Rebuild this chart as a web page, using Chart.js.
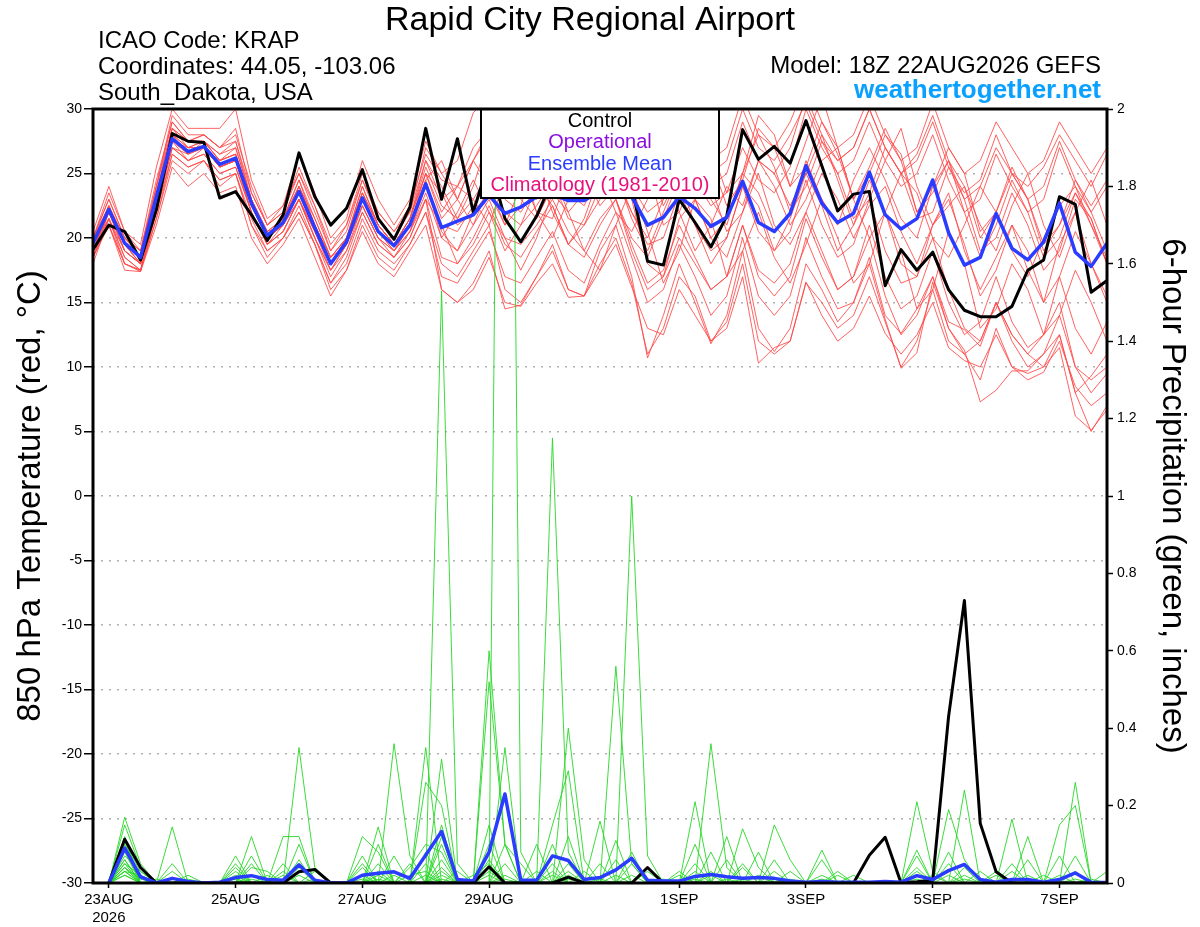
<!DOCTYPE html>
<html>
<head>
<meta charset="utf-8">
<title>Rapid City Regional Airport - GEFS</title>
<script src="https://cdn.jsdelivr.net/npm/chart.js@4.4.1/dist/chart.umd.min.js"></script>
<style>
  html, body { margin: 0; padding: 0; background: #fff; }
  #wrap { position: relative; width: 1200px; height: 927px; }
</style>
</head>
<body>
<div id="wrap"><canvas id="chart" width="1200" height="927"></canvas></div>
<script>
// forecast hour of every point, 18Z 22AUG2026 run
const forecastHours = [0,6,12,18,24,30,36,42,48,54, 60,66,72,78,84,90,96,102,108,114,
	120,126,132,138,144,150,156,162,168,174, 180,186,192,198,204,210,216,222,228,234,
	240,246,252,258,264,270,276,282,288,294, 300,306,312,318,324,330,336,342,348,354,
	360,366,372,378,384];
const tickHours = [6, 54, 102, 150, 222, 270, 318, 366];
const tickLabels = [['23AUG', '2026'], '25AUG', '27AUG', '29AUG', '1SEP', '3SEP', '5SEP', '7SEP'];

// 850 hPa temperature (C)
const meanTemp = [19.6,22.2,19.6,18.5,23.2,27.7,26.7,27.1,25.7,26.2, 22.7,20.2,21.2,23.6,20.8,18.0,19.7,23.1,20.5,19.4,
	21.0,24.2,20.8,21.3,21.8,23.3,21.9,22.4,23.2,23.4, 22.9,22.9,23.6,24.0,23.2,21.0,21.6,23.2,22.3,20.9,
	21.6,24.4,21.2,20.5,21.9,25.6,22.7,21.2,21.9,25.1, 21.8,20.7,21.5,24.5,20.4,17.9,18.5,21.9,19.2,18.3,
	19.7,22.7,18.9,17.8,19.6];
const controlTemp = [19.1,21.0,20.5,18.3,22.2,28.1,27.5,27.4,23.1,23.6, 21.8,19.8,21.8,26.6,23.2,21.0,22.3,25.3,21.5,19.9,
	22.4,28.5,23.0,27.7,22.0,26.0,21.5,19.7,21.7,24.5, 25.5,24.8,26.0,25.0,24.0,18.2,17.9,23.0,21.2,19.3,
	21.7,28.4,26.1,27.1,25.8,29.1,25.6,22.1,23.4,23.6, 16.3,19.1,17.5,18.9,16.0,14.4,13.9,13.9,14.7,17.5,
	18.3,23.2,22.6,15.8,16.7];

const tempMember01 = [20,23.5,20.5,19,24,29.5,28,28,27,28.5,23.5,21,22,25,22,19,21,24.5,22,20.5,22,
	26,23,24,27,28.5,25,25.5,27,28,26,27,29,30.5,27,24,25,28,26,24,25,29,26,25,27,
	31,28,26,27,30,27,25,26.5,29.5,26,23,24,27,25,24,25.5,28,26,24,26.5];
const tempMember02 = [19,21,18,17.5,21.5,26,25,26,24,25,21.5,19,20,22,19.5,16.5,18,21.5,19,18,19.5,
	22,18,17,19,21,16,15,17,19,16,15.5,18,20,16.5,11,13,17,15.5,12,13.5,18,12,11,12,
	16.5,15,13,14,17,13.5,10,12,16,12,11,12,15,12,10,11,14,10,9,10];
const tempMember03 = [19.5,22.5,19.5,18,23,28,27,27.5,26,26.5,22.5,20,21.5,24,21,18,20,23.5,21,19.5,21,
	25,22,24,23,21,24.5,26,22,20,23,26,25,22,20.5,23,25.5,22,19,21,24,22.5,26,24,21,
	23,26,27,23,20,22,25,23.5,20,18.5,21,24,22,19,17,20,22.5,24,21,18];
const tempMember04 = [18.5,21.5,18.5,17.5,22,27,26,26.5,25,25.5,22,19.5,20.5,23,20,17,19,22.5,20,18.5,20.5,
	23.5,20,19,21,23,20,19.5,21,23,20.5,19,21.5,23,19,16,17,20,18,16,17,21,17.5,16.5,18,
	22,19,16,17,20,15.5,12.5,14,17,13,11,9,13,10,9.5,10,12.5,8,5,7];
const tempMember05 = [20,22,19,18,22.5,27.5,27,27,25.5,26,22.5,20.5,21,23.5,21,18.5,19.5,23,20.5,19,21,
	24.5,26,23,21,24,27,25,22,21.5,25,28,26,24.5,22,20,23,26.5,27,23,21,25,28,25.5,22,
	24,27.5,25,21.5,23,26,28.5,24,21,22.5,24,21,19,22.5,25,21,18.5,22,24.5,21];
const tempMember06 = [19,22,19.5,18.5,23.5,28.5,27.5,27.5,26.5,27,23,20,21,24,21.5,18.5,20,24,21,19.5,21.5,
	25.5,22.5,21.5,23,25,23,22,24,26,23.5,22.5,25,27,24,22,23,26,24.5,22.5,23.5,27,24.5,23.5,25.5,
	30,27,25,26,29,26,24,25,28,24.5,22,23,26.5,24,22,23,27,24,22,24];
const tempMember07 = [18.5,21,18,17.5,22.5,27,26.5,27,25.5,26,22,19.5,21,23,20.5,17.5,19.5,22.5,20,19,20.5,
	23,16,15,16.5,19,14.5,14.8,17,19.5,16,15.5,19,21,17,10.7,14,18,15,11.8,14,19,13,11.2,13,
	18,16,13.5,15,18.5,14,12.6,14.5,17,13.5,12.9,11.6,15,12.5,11,12.5,17,13,11,13.5];
const tempMember08 = [20,23,20,19,24.5,29,27.5,28,27,28,24,21,22.5,25,22.5,19,20.5,24.5,21.5,20,22,
	27,25,23,26,28.5,27,24.5,23,26,28,26.5,24,26,29,27,23,24,27.5,26,22.5,24.5,28.5,27,24,
	25.5,29,26.5,23,25,28,26.5,22,23.5,26,24,20,22,25,23,19.5,21,23.5,21.5,18];
const tempMember09 = [19.5,21.5,18,17.4,21.5,26.5,25.5,26,24.5,25,21,18.5,20,22,19.5,16,17.5,21,18.5,17.5,19.5,
	22,17,16.5,18.5,20.5,17,16.5,18.5,20.5,17.5,16.5,19.5,22,18.5,15,16,19.5,17,14,15.5,20,15.5,14,15.5,
	20,17,14.5,15,18,13.7,9.9,11.1,16.6,13,11.3,7.3,8.2,9.7,9.7,11,12.5,8,9.3,11];
const tempMember10 = [19,22.5,19.5,18,23,28,26.5,27,25.5,26,22.5,20,21,23.5,20.5,18,19.5,23,20.5,19.5,21,
	24,20.5,19,22,23.5,21,24,25.5,22,19.5,21,24,26,23,18,17,21.5,23,20,18.5,22,25,21,19.5,
	22,25,23,20,22.5,24,20.5,18,21,23.5,19,16,18.5,21,17.5,15,19.5,22,18,15.5];
const tempMember11 = [20.5,24,20.5,19.5,25.5,30,28.5,28.5,28.5,30,24.5,21.5,22.5,26.5,23.5,20,21.5,26,23,21,23,
	27.5,25,26,29.7,31,28,27,29,31,28,27,30,32,29,26,27,30.5,28,26,27,31,28,27,29,
	32,29,27,28,31,28,26,27,30.5,27,25,26,29,27,25,26,29,27,25,27];
const tempMember12 = [18.5,22,19,18,22,27.5,26,26.5,25,25.5,22,19.5,20.5,23,20,17.5,19,22,19.5,18.5,20,
	23,21,18,19.5,22,20,17.5,20,23.5,22,19,17.5,21,24,20.5,16.5,19,23,21.5,17,19,22,18.5,16.5,
	19.5,23,20,16.5,18,22,19,14.5,16,20.5,18,13,14.5,18,16,12.5,14,17.5,15,12];
const tempMember13 = [19.5,22,19.5,18.5,23.5,28.5,27.5,27.5,26,26.5,23,20.5,21.5,24,21,18.5,20,23.5,21,19.5,21.5,
	25,23.5,21,22,25.5,26.5,23,21.5,24,27,25,22.5,24,27.5,25.5,21,22,25,24,20.5,22,26,25,22.5,
	25,28,24.5,21,23.5,27,25,21.5,22,25.5,23,19,20,23.5,21,17.5,19,23,21.5,18];
const tempMember14 = [19,21.5,19,18,22.5,27,26,27,25.5,26,22,19.5,20.5,23,20,17.5,19.5,22.5,20,19,20.5,
	24,21,20.5,22.5,24.5,22,21,22.5,24.5,21.5,21,23,25,22,19.5,20,23.5,21,19,20,24,20.5,19,20.5,
	24.5,21,18.5,19.5,23,19,16.5,17,20,16,13,12,15,12.5,11,10,11.5,6.2,5.1,6.7];
const tempMember15 = [20,22.5,20,19,24,28.5,27,27.5,26.5,27.5,23,20.5,21.5,24.5,21.5,18.5,20,24,21,19.5,21.5,
	26,24,21.5,24,28,29.5,26,23,25,29,27.5,24,25,28.5,26,22.5,25,29,27,23.5,25,29.5,28,24,
	27.5,31,27,23,25.5,28.5,26,22,24,27,25,20.5,22,25.5,23,19,21,24.5,22,19];
const tempMember16 = [18,21.5,18.5,17.5,22,26.5,25.5,26,24.5,25,21,19,20,22.5,19.5,16.5,18.5,22,19.5,18.5,20,
	23,18.5,18,20,22.5,19.5,18.5,20.5,22.5,19.5,18.5,21,23,19.5,16.5,17.5,21,18.5,16,17,21,17,15.5,17,
	21.5,18.5,16,17,21,17,14.5,15.5,19,15,12.5,13.5,17,13.5,11.5,12.5,15,10,8,9.5];
const tempMember17 = [19.5,22.5,19.5,18,23,28,27,27,26,27,23,20,21.5,24.5,21,18,20,23.5,21,19.5,21.5,
	25,21.5,23,26,24,21,22.5,26.5,25,22,23.5,27,25,21.5,19,22,25,23,20,21.5,25,23.5,20.5,22,
	26,23,21,24.5,27,24.5,21.5,20,24,26,22,18.5,21,24.5,22,18.5,20,23.5,21,18.5];
const tempMember18 = [19,22,19,18,23,27.5,26.5,27.5,26,26.5,22.5,20,21,23,20.5,18,19.5,23,20.5,19,21,
	24.5,20,22,24.5,22,19,21,24,22.5,19.5,21.5,25,23,20,18.5,21.5,24.5,21,18,20,24,22.5,19,21.5,
	25,22.5,19,21,24.5,22,18,17,21,23,19.5,15.5,17.5,21,19,15,17,20.5,18,15];
const tempMember19 = [20,23,20,18.5,24,29,27.5,28,27,27.5,23.5,21,22,25.5,22.5,19.5,21,25,22,20.5,22.5,
	26.5,24.5,24,26,28,26,25.5,27,29,26.5,26,28,30,27.5,25,26,29,27,25,26,30,27,26,28,
	30.5,27.5,26,27,30,27,25,26,29,25.5,23.5,24.5,28,25,23,24,27.5,24.5,22.5,24.5];
const tempMember20 = [18.5,21,17.5,17.4,21,25.5,24,25,23.5,24,20,18,19.5,21.5,18.5,15.5,17.5,20.5,18,17,19,
	21,16,15,16,18.5,15,14.7,16.5,18,15.4,15.5,17.5,19.5,16.2,13,12.5,16,14,12,13,17,10.3,11.5,12,
	16.6,14,12,13,15.5,12.6,11,12.5,15,11.5,10.5,10,12.5,10,9,9.6,12,8.5,7,8];

// 6-hour precipitation (inches), first step has no accumulation
const meanPrecip = [null,0,.09,.016,0,.012,.004,0,.002,.014, .019,.009,.007,.047,.007,0,0,.02,.025,.029,
	.012,.072,.133,.009,.005,.08,.23,.007,.007,.07, .058,.009,.014,.034,.064,.007,.005,.005,.017,.022,
	.016,.012,.014,.012,.005,.002,.004,.002,.002,.002, .004,.002,.019,.009,.032,.048,.009,.002,.009,.009,
	.002,.009,.026,.002,.001];
const controlPrecip = [null,0,.113,.04,0,0,0,0,0,0, 0,0,0,.029,.035,0,0,0,0,0,
	0,0,0,0,0,.042,0,0,0,0, .015,0,0,0,0,.04,0,0,0,0,
	0,0,0,0,0,0,0,0,0,.072, .118,0,.003,.007,.43,.73,.154,.029,0,0,
	0,0,0,0,0];

const precipMember01 = [null,0,.17,.05,0,0,0,0,0,0, 0,0,0,.35,.04,0,0,0,0,0, 0,0,1.53,.05,0,0,0,0,0,0,
	.12,0,0,0,0,0,0,0,.05,0, 0,0,0,0,0,0,0,0,0,0, 0,0,.04,0,0,0,0,0,0,0, 0,0,.07,0,0];
const precipMember02 = [null,0,.15,.04,0,.145,0,0,0,0, .12,0,0,0,0,0,0,0,0,0, 0,.35,0,0,0,.6,.1,0,0,0,
	0,0,0,.11,0,0,0,0,0,.36, .04,0,0,0,0,0,0,0,0,0, 0,0,0,0,0,.24,0,0,0,0, 0,0,0,0,0];
const precipMember03 = [null,0,.12,0,0,0,0,0,0,.07, 0,0,.12,.12,0,0,0,0,0,.36, .07,0,0,0,0,0,4.4,.08,0,0,
	0,0,0,0,.08,0,0,0,0,0, 0,0,0,0,0,0,.085,0,0,0, 0,0,0,0,0,0,0,0,.165,0, 0,0,0,0,0];
const precipMember04 = [null,0,.1,.03,0,0,0,0,0,0, .07,0,0,0,0,0,0,.12,.08,0, 0,0,.32,0,0,0,0,0,0,1.15,
	.08,0,0,0,0,0,0,0,.21,0, 0,0,0,.15,.06,0,0,0,0,0, 0,0,0,0,0,0,0,0,0,0, 0,0,.26,0,0];
const precipMember05 = [null,0,.08,0,0,0,0,0,0,.05, 0,0,0,.1,0,0,0,0,.145,0, 0,.26,.2,0,0,.52,.1,0,0,0,
	.4,.06,0,0,0,0,0,0,0,0, 0,.14,.04,0,0,0,0,0,0,0, 0,0,0,0,.19,.06,0,0,0,0, 0,0,0,0,0];
const precipMember06 = [null,0,.06,0,0,.05,0,0,0,0, 0,0,.05,0,0,0,0,.07,0,0, 0,0,.15,0,0,.15,0,0,0,0,
	0,0,0,.56,.05,0,0,0,0,0, .12,0,0,0,0,0,0,0,0,0, 0,0,.21,.03,0,0,0,0,0,0, 0,.15,.2,0,0];
const precipMember07 = [null,0,.05,.02,0,0,0,0,0,0, .05,0,0,.06,0,0,0,0,.1,0, 0,0,.12,0,0,0,0,0,0,.15,
	.29,0,.16,0,0,0,0,0,0,.08, 0,0,0,0,0,0,.06,0,0,0, 0,0,0,0,0,0,0,0,0,.12, 0,0,0,0,0];
const precipMember08 = [null,0,.05,0,0,0,.02,0,0,.04, 0,0,0,0,.03,0,0,0,0,0, .04,.1,.08,0,0,.1,0,0,0,0,
	0,0,0,0,1.0,.07,0,0,0,0, 0,0,.08,0,0,0,0,0,0,0, 0,0,.085,0,0,0,0,0,.05,0, 0,0,0,0,0];
const precipMember09 = [null,0,.04,0,0,.03,0,0,0,0, 0,0,0,0,0,0,0,.05,0,.07, 0,0,.1,0,0,0,.35,0,0,.1,
	0,0,0,0,0,0,0,0,.1,0, 0,.05,0,0,0,0,0,.03,0,0, 0,0,0,0,.08,0,0,.03,0,0, 0,0,0,0,0];
const precipMember10 = [null,0,.04,0,0,0,0,0,0,0, .04,.03,0,.04,0,0,0,0,.05,0, 0,.08,0,0,0,.06,0,0,.1,0,
	.05,0,0,.06,0,0,0,0,0,0, .06,0,0,.06,0,0,0,0,0,0, 0,0,.07,0,0,0,0,0,0,0, 0,.07,0,0,0];
const precipMember11 = [null,0,.03,.02,0,0,0,0,0,.03, 0,0,0,0,0,0,0,.04,0,0, .05,0,0,0,.02,.05,0,0,0,.05,
	0,.03,0,0,0,0,0,.03,0,.03, 0,0,0,0,0,0,0,0,.02,0, 0,0,0,0,0,.04,0,0,0,.06, 0,0,0,0,0];
const precipMember12 = [null,0,.03,0,0,0,0,0,0,0, 0,.02,0,0,0,0,0,0,0,0, 0,0,.06,0,0,0,.1,.05,0,0,
	0,0,.05,0,0,.03,0,0,0,0, 0,.04,0,0,.03,0,0,0,0,0, 0,0,0,0,.05,0,0,0,0,0, 0,0,0,0,.03];
const precipMember13 = [null,0,.02,0,0,0,.01,0,0,0, 0,0,.02,0,0,0,0,0,.03,0, 0,0,0,.03,0,0,0,0,.03,0,
	0,0,0,0,.05,0,0,0,0,0, 0,0,0,.03,0,0,0,.02,0,0, 0,0,0,0,0,0,0,.02,0,0, .02,0,0,0,0];
const precipMember14 = [null,0,.07,.03,0,0,0,0,0,0, .02,0,0,0,0,0,0,.02,0,0, 0,.05,0,0,0,.04,0,0,0,0,
	.02,0,0,0,0,0,0,.02,0,0, 0,0,.02,0,0,0,0,0,0,0, 0,0,0,.02,0,0,.03,0,0,0, 0,0,0,.01,0];
const precipMember15 = [null,0,.09,0,0,0,0,0,0,.02, 0,0,0,0,.01,0,0,0,0,.02, 0,0,.04,0,0,0,.05,0,0,.02,
	0,0,0,0,0,0,0,0,.03,0, 0,0,0,0,0,0,.02,0,0,0, 0,0,.03,0,0,0,0,0,.03,0, 0,0,0,0,0];
const precipMember16 = [null,0,.11,0,.01,0,0,0,0,0, 0,0,.03,0,0,0,0,0,.02,0, 0,0,.03,0,0,.03,0,0,0,0,
	.03,0,0,0,0,0,.01,0,0,0, 0,0,0,0,.01,0,0,0,0,0, 0,0,0,0,0,.02,0,0,0,0, 0,.02,0,0,0];
const precipMember17 = [null,0,.02,0,0,0,0,0,0,0, .01,0,0,0,0,0,0,0,0,0, .02,.03,0,0,0,0,.02,0,0,0,
	0,0,0,.02,0,0,0,0,0,.02, 0,.01,0,0,0,0,0,0,0,0, 0,0,0,0,.02,0,0,0,0,0, 0,0,.03,0,0];
const precipMember18 = [null,0,.06,0,0,0,0,0,0,0, 0,0,0,.02,0,0,0,.01,0,0, 0,0,.02,0,0,0,0,0,0,.03,
	0,0,0,0,.02,0,0,0,0,0, .01,0,0,0,0,0,0,0,0,0, 0,0,.01,0,0,0,0,0,0,.02, 0,0,0,0,0];
const precipMember19 = [null,0,.04,.01,0,0,0,0,0,.01, 0,0,0,0,0,0,0,0,0,0, 0,.02,0,0,0,.02,0,0,0,0,
	.01,0,0,0,0,0,0,0,0,0, 0,0,0,.01,0,0,0,0,0,0, 0,0,0,0,0,.01,0,0,0,0, 0,0,0,0,0];
const precipMember20 = [null,0,.03,0,0,0,0,0,0,0, 0,0,0,0,0,0,0,0,.01,0, 0,0,.01,0,0,0,.01,0,0,0,
	0,0,.01,0,0,0,0,0,.01,0, 0,0,0,0,0,0,.01,0,0,0, 0,0,0,0,0,0,0,0,0,0, 0,0,.01,0,0];

const tempMembers = [tempMember01, tempMember02, tempMember03, tempMember04, tempMember05,
	tempMember06, tempMember07, tempMember08, tempMember09, tempMember10,
	tempMember11, tempMember12, tempMember13, tempMember14, tempMember15,
	tempMember16, tempMember17, tempMember18, tempMember19, tempMember20];
const precipMembers = [precipMember01, precipMember02, precipMember03, precipMember04, precipMember05,
	precipMember06, precipMember07, precipMember08, precipMember09, precipMember10,
	precipMember11, precipMember12, precipMember13, precipMember14, precipMember15,
	precipMember16, precipMember17, precipMember18, precipMember19, precipMember20];

const legendItems = [
	{ text: 'Control', color: '#000000' },
	{ text: 'Operational', color: '#8a10e0' },
	{ text: 'Ensemble Mean', color: '#2a3cff' },
	{ text: 'Climatology (1981-2010)', color: '#e8107c' }
];

Chart.defaults.font.family = '"Liberation Sans", Arial, Helvetica, sans-serif';
Chart.defaults.color = '#000';

// datasets: index 0 is painted last, so thick lines go first
let datasets = [];
datasets.push({ label: 'Ensemble Mean', data: meanTemp, yAxisID: 'yT', borderColor: '#2a3cff', borderWidth: 3.5 });
datasets.push({ label: 'Control', data: controlTemp, yAxisID: 'yT', borderColor: '#000', borderWidth: 3 });
datasets.push({ label: 'Ensemble Mean precip', data: meanPrecip, yAxisID: 'yP', borderColor: '#2a3cff', borderWidth: 3.5 });
datasets.push({ label: 'Control precip', data: controlPrecip, yAxisID: 'yP', borderColor: '#000', borderWidth: 3 });
precipMembers.forEach(function (d, i) {
	datasets.push({ label: 'P member ' + (i + 1), data: d, yAxisID: 'yP', borderColor: 'rgba(40,215,40,0.9)', borderWidth: 1 });
});
tempMembers.forEach(function (d, i) {
	datasets.push({ label: 'T member ' + (i + 1), data: d, yAxisID: 'yT', borderColor: 'rgba(255,70,70,0.85)', borderWidth: 1 });
});

const decorations = {
	id: 'decorations',
	afterDatasetsDraw(chart) {
		const ctx = chart.ctx;
		const a = chart.chartArea;
		ctx.save();
		// legend box
		let cx = (a.left + a.right) / 2;
		let boxW = 238, boxH = 89;
		ctx.fillStyle = '#fff';
		ctx.fillRect(cx - boxW / 2, a.top, boxW, boxH);
		ctx.lineWidth = 2;
		ctx.strokeStyle = '#000';
		ctx.strokeRect(cx - boxW / 2, a.top, boxW, boxH);
		ctx.font = '20px "Liberation Sans", Arial, sans-serif';
		ctx.textAlign = 'center';
		ctx.textBaseline = 'alphabetic';
		legendItems.forEach(function (item, i) {
			ctx.fillStyle = item.color;
			ctx.fillText(item.text, cx, a.top + 18 + i * 21.3);
		});
		// plot frame
		ctx.lineWidth = 3;
		ctx.strokeStyle = '#000';
		ctx.strokeRect(a.left, a.top, a.right - a.left, a.bottom - a.top);
		ctx.restore();
	},
	afterDraw(chart) {
		const ctx = chart.ctx;
		ctx.save();
		ctx.fillStyle = '#000';
		ctx.textBaseline = 'alphabetic';
		ctx.textAlign = 'center';
		ctx.font = '34px "Liberation Sans", Arial, sans-serif';
		ctx.fillText('Rapid City Regional Airport', 590, 30);
		ctx.textAlign = 'left';
		ctx.font = '24px "Liberation Sans", Arial, sans-serif';
		ctx.fillText('ICAO Code: KRAP', 98, 48);
		ctx.fillText('Coordinates: 44.05, -103.06', 98, 74);
		ctx.fillText('South_Dakota, USA', 98, 100);
		ctx.textAlign = 'right';
		ctx.fillText('Model: 18Z 22AUG2026 GEFS', 1101, 73);
		ctx.fillStyle = '#0aa0ff';
		ctx.font = 'bold 26px "Liberation Sans", Arial, sans-serif';
		ctx.fillText('weathertogether.net', 1101, 98);
		ctx.restore();
	}
};

new Chart(document.getElementById('chart'), {
	type: 'line',
	data: { labels: forecastHours, datasets: datasets },
	options: {
		responsive: false,
		devicePixelRatio: 1,
		animation: false,
		layout: { padding: { top: 109, left: 0, right: 0, bottom: 0 } },
		elements: {
			point: { radius: 0 },
			line: { tension: 0, borderJoinStyle: 'round' }
		},
		plugins: {
			legend: { display: false },
			tooltip: { enabled: false },
			title: { display: false }
		},
		scales: {
			x: {
				type: 'linear',
				min: 0,
				max: 384,
				afterBuildTicks: function (scale) {
					scale.ticks = tickHours.map(v => ({ value: v }));
				},
				afterFit: function (scale) { scale.height = 44; },
				ticks: {
					autoSkip: false,
					maxRotation: 0,
					padding: 3,
					font: { size: 15 },
					callback: function (v) { return tickLabels[tickHours.indexOf(v)]; }
				},
				grid: { drawOnChartArea: false, tickLength: 5, tickColor: '#000', tickWidth: 1.5 },
				border: { display: false }
			},
			yT: {
				position: 'left',
				min: -30,
				max: 30,
				afterFit: function (scale) { scale.width = 93; },
				ticks: { stepSize: 5, padding: 2, font: { size: 14 } },
				grid: {
					color: function (c) { return (c.tick && Math.abs(c.tick.value) < 30) ? '#b0b0b0' : 'rgba(0,0,0,0)'; },
					lineWidth: 1.5,
					tickLength: 9,
					tickColor: '#000',
					tickWidth: 1.5
				},
				border: { display: false, dash: [2, 6] },
				title: {
					display: true,
					text: '850 hPa Temperature (red, °C)',
					font: { size: 33 },
					padding: { top: 11, bottom: 0 }
				}
			},
			yP: {
				position: 'right',
				min: 0,
				max: 2,
				afterFit: function (scale) { scale.width = 93; },
				ticks: {
					stepSize: 0.2,
					padding: 4,
					font: { size: 14 },
					callback: function (v) { return String(+v.toFixed(1)); }
				},
				grid: { drawOnChartArea: false, tickLength: 6, tickColor: '#000', tickWidth: 1.5 },
				border: { display: false },
				title: {
					display: true,
					text: '6-hour Precipitation (green, inches)',
					font: { size: 33 },
					padding: { top: 8, bottom: 0 }
				}
			}
		}
	},
	plugins: [decorations]
});
</script>
</body>
</html>
